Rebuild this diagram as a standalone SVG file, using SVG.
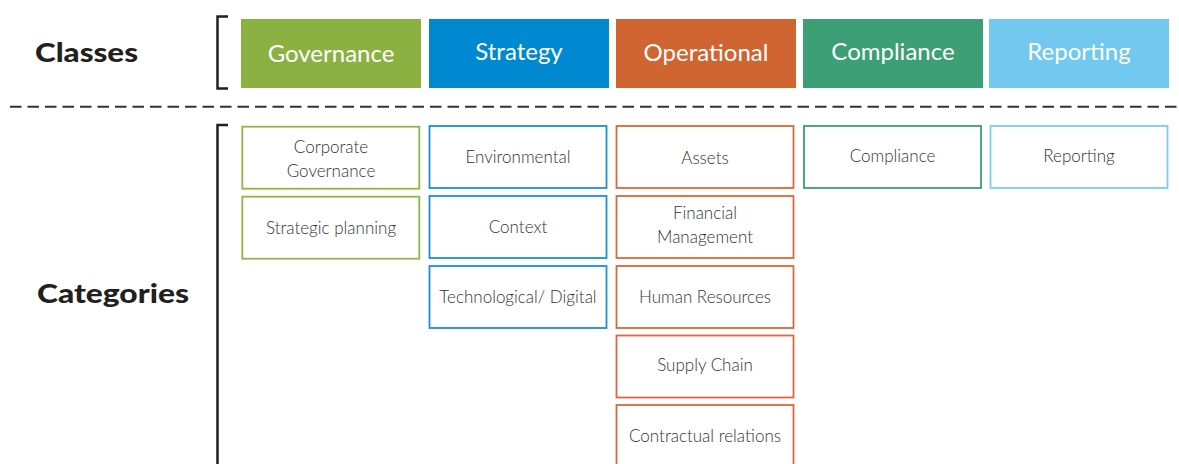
<svg xmlns="http://www.w3.org/2000/svg" width="1179" height="464" viewBox="0 0 1179 464">
<style>
.hdr{font-family:"Lato","Liberation Sans",sans-serif;font-weight:900;fill:#231F20;}
.cls{font-family:"Lato","Liberation Sans",sans-serif;font-size:24px;fill:#ffffff;text-anchor:middle;}
.cat{font-family:"Lato","Liberation Sans",sans-serif;font-weight:300;font-size:17px;fill:#333333;text-anchor:middle;}
.box{fill:#ffffff;stroke-width:1.8;}
.gov{stroke:#8DB843;}
.str{stroke:#1B8FD2;}
.ops{stroke:#D9693A;}
.cmp{stroke:#3AA070;}
.rep{stroke:#7ACDF0;}
.brk{fill:none;stroke:#231F20;stroke-width:2.5;}
</style>
<rect width="1179" height="464" fill="#ffffff"/>
<g id="labels">
<text class="hdr" x="35" y="62" font-size="27" textLength="103" lengthAdjust="spacingAndGlyphs">Classes</text>
<text class="hdr" x="37" y="303" font-size="27" textLength="152" lengthAdjust="spacingAndGlyphs">Categories</text>
</g>
<g id="connectors">
<polyline class="brk" points="228,16.5 217.5,16.5 217.5,88.5 228,88.5"/>
<polyline class="brk" points="228,125 217.5,125 217.5,464"/>
<line x1="10" y1="106.7" x2="1179" y2="106.7" stroke="#333333" stroke-width="2" stroke-dasharray="11.5,6"/>
</g>
<g id="class-governance"><rect x="241" y="19" width="180" height="69" fill="#8BB142"/><text class="cls" x="331" y="62">Governance</text></g>
<g id="class-strategy"><rect x="429" y="19" width="180" height="69" fill="#0089D0"/><text class="cls" x="519" y="60">Strategy</text></g>
<g id="class-operational"><rect x="616" y="19" width="180" height="69" fill="#D06531"/><text class="cls" x="706" y="61">Operational</text></g>
<g id="class-compliance"><rect x="803" y="19" width="180" height="69" fill="#3C9F75"/><text class="cls" x="893" y="59.5">Compliance</text></g>
<g id="class-reporting"><rect x="989" y="19" width="180" height="69" fill="#72C8EE"/><text class="cls" x="1079" y="59.5">Reporting</text></g>

<g id="cat-corporate-governance"><rect class="box gov" x="242.3" y="126.7" width="177" height="62"/><text class="cat" x="331" y="153.3">Corporate</text><text class="cat" x="331" y="176.7">Governance</text></g>
<g id="cat-strategic-planning"><rect class="box gov" x="242.3" y="196.7" width="177" height="62"/><text class="cat" x="331" y="234">Strategic planning</text></g>

<g id="cat-environmental"><rect class="box str" x="429.5" y="126" width="177" height="62"/><text class="cat" x="518" y="163.3">Environmental</text></g>
<g id="cat-context"><rect class="box str" x="429.5" y="196" width="177" height="62"/><text class="cat" x="518" y="233.3">Context</text></g>
<g id="cat-technological"><rect class="box str" x="429.5" y="266" width="177" height="62"/><text class="cat" x="518" y="302.7">Technological/ Digital</text></g>

<g id="cat-assets"><rect class="box ops" x="616.5" y="126" width="177" height="62"/><text class="cat" x="705" y="164">Assets</text></g>
<g id="cat-financial"><rect class="box ops" x="616.5" y="196" width="177" height="62"/><text class="cat" x="705" y="219.3">Financial</text><text class="cat" x="705" y="243.3">Management</text></g>
<g id="cat-human-resources"><rect class="box ops" x="616.5" y="266" width="177" height="62"/><text class="cat" x="705" y="303.3">Human Resources</text></g>
<g id="cat-supply-chain"><rect class="box ops" x="616.5" y="335.5" width="177" height="62"/><text class="cat" x="705" y="371">Supply Chain</text></g>
<g id="cat-contractual"><rect class="box ops" x="616.5" y="405" width="177" height="62"/><text class="cat" x="705" y="442.3">Contractual relations</text></g>

<g id="cat-compliance"><rect class="box cmp" x="804" y="126" width="177" height="62"/><text class="cat" x="892.5" y="162.3">Compliance</text></g>
<g id="cat-reporting"><rect class="box rep" x="990.5" y="126" width="177" height="62"/><text class="cat" x="1079" y="162.3">Reporting</text></g>
</svg>
